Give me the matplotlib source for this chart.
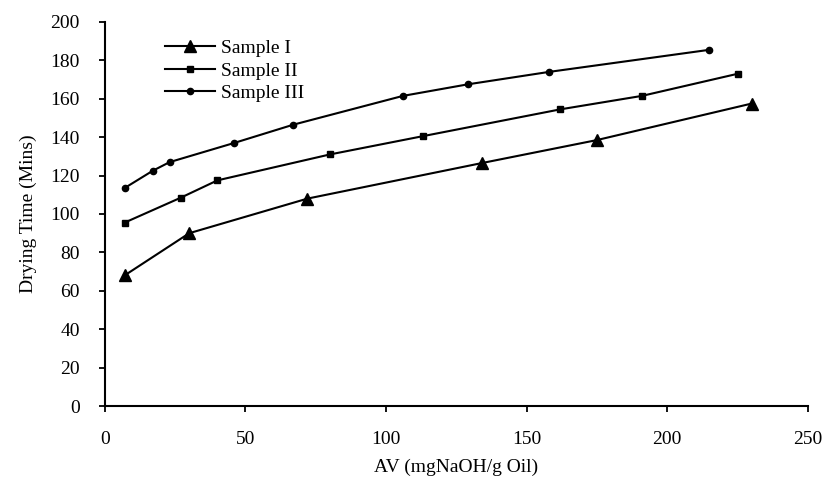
import matplotlib.pyplot as plt

plt.rcParams['font.family'] = ['Liberation Serif', 'DejaVu Serif']

av1 = [7, 30, 72, 134, 175, 230]
dt1 = [68, 90, 108, 126.5, 138.5, 157.5]

av2 = [7, 27, 40, 80, 113, 162, 191, 225]
dt2 = [95.5, 108.5, 117.5, 131, 140.5, 154.5, 161.5, 173]

av3 = [7, 17, 23, 46, 67, 106, 129, 158, 215]
dt3 = [113.5, 122.5, 127, 137, 146.5, 161.5, 167.5, 174, 185.5]

fig = plt.figure(figsize=(8.26, 4.88), dpi=100)
ax = fig.add_axes([0.127, 0.168, 0.851, 0.787])

ax.plot(av1, dt1, color='black', lw=1.5, marker='^', ms=8, label='Sample I')
ax.plot(av2, dt2, color='black', lw=1.5, marker='s', ms=4.5, label='Sample II')
ax.plot(av3, dt3, color='black', lw=1.5, marker='o', ms=4.5, label='Sample III')

ax.set_xlim(0, 250)
ax.set_ylim(0, 200)
ax.set_xticks(range(0, 251, 50))
ax.set_yticks(range(0, 201, 20))
ax.spines['top'].set_visible(False)
ax.spines['right'].set_visible(False)
ax.spines['left'].set_linewidth(1.5)
ax.spines['bottom'].set_linewidth(1.5)
ax.tick_params(direction='out', length=4, width=1.3, labelsize=14)
ax.tick_params(axis='y', pad=14)
ax.tick_params(axis='x', pad=14)

ax.set_xlabel('AV (mgNaOH/g Oil)', fontsize=14, labelpad=8)
ax.set_ylabel('Drying Time (Mins)', fontsize=14, labelpad=10)

ax.legend(loc='upper left', bbox_to_anchor=(0.06, 1.0), frameon=False,
          fontsize=14, handlelength=2.6, handletextpad=0.3, labelspacing=0.25)

fig.savefig('out.png', dpi=100)
